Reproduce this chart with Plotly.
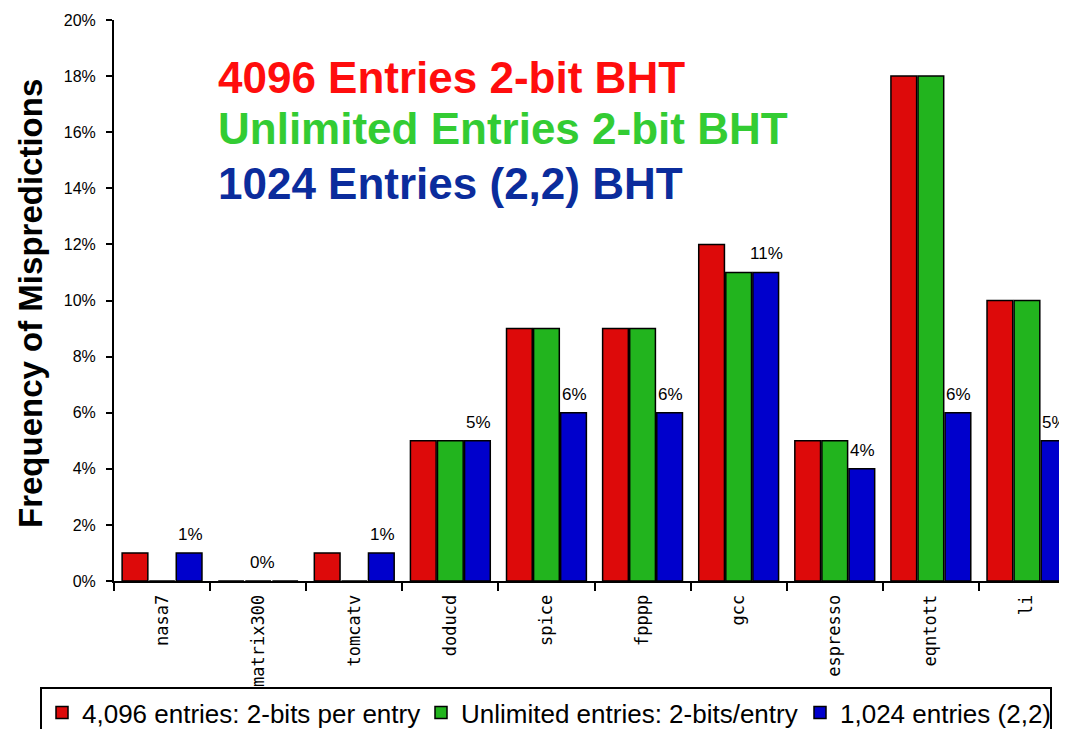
import plotly.graph_objects as go

categories = ["nasa7", "matrix300", "tomcatv", "doducd", "spice", "fpppp", "gcc", "espresso", "eqntott", "li"]
bht_4096 = [1, 0, 1, 5, 9, 9, 12, 5, 18, 10]
bht_unlimited = [0, 0, 0, 5, 9, 9, 11, 5, 18, 10]
bht_1024_22 = [1, 0, 1, 5, 6, 6, 11, 4, 6, 5]

series_names = ["4,096 entries: 2-bits per entry", "Unlimited entries: 2-bits/entry", "1,024 entries (2,2)"]
series_colors = ["#DD0A0A", "#22B41E", "#0000CC"]
y_ticks = [0, 2, 4, 6, 8, 10, 12, 14, 16, 18, 20]
title_lines = ["4096 Entries 2-bit BHT", "Unlimited Entries 2-bit BHT", "1024 Entries (2,2) BHT"]
title_colors = ["#FF0D0D", "#33CC33", "#0B2C9C"]

# page body has an 8px margin: positions below are in figure pixels (screen - 8)
OFF = 8
W, H = 1067, 729
ML, MR, MT = 114 - OFF, 0, 20 - OFF
plot_h = 561
MB = H - MT - plot_h
plot_w = W - ML - MR
cat_px = 96.1
x_max = -0.5 + plot_w / cat_px


def sy(screen_y):
    """screen y -> paper fraction"""
    return (MT + plot_h - (screen_y - OFF)) / plot_h


def sx(screen_x):
    return ((screen_x - OFF) - ML) / plot_w


fig = go.Figure()
for vals, name, col in zip([bht_4096, bht_unlimited, bht_1024_22], series_names, series_colors):
    fig.add_trace(go.Bar(
        x=categories, y=vals, name=name,
        marker=dict(color=col, line=dict(color="black", width=1.5)),
        legendwidth=205 if name == series_names[-1] else None,
    ))

# value labels of the (2,2) series, above its bars
for cat, v in zip(categories, bht_1024_22):
    fig.add_annotation(
        x=cat, y=v, xref="x", yref="y", text=f"{v}%", showarrow=False,
        xanchor="center", yanchor="bottom",
        xshift=28 if v > 0 else 4, yshift=7,
        font=dict(family="Arial, Liberation Sans", size=17, color="black"),
    )

fig.update_layout(
    width=W, height=H,
    margin=dict(l=ML, r=MR, t=MT, b=MB, autoexpand=False),
    paper_bgcolor="white", plot_bgcolor="white",
    barmode="group", bargap=0.155, bargroupgap=0.05,
    font=dict(family="Arial, Liberation Sans", color="black"),
    showlegend=True,
    legend=dict(
        orientation="h",
        x=sx(40), xanchor="left",
        y=sy(687), yanchor="top",
        bordercolor="black", borderwidth=2,
        font=dict(family="Arial, Liberation Sans", size=26, color="black"),
        entrywidth=334,
        traceorder="normal",
    ),
    xaxis=dict(
        range=[-0.5, x_max],
        showline=True, linecolor="black", linewidth=2,
        ticks="outside", ticklen=8, tickwidth=1.5, tickcolor="black",
        tickson="boundaries",
        tickangle=-90,
        ticklabelstandoff=5,
        tickfont=dict(family="DejaVu Sans Mono", size=17, color="black"),
        showgrid=False, zeroline=False,
    ),
    yaxis=dict(
        range=[0, 20],
        tickvals=y_ticks, ticktext=[f"{v}%" for v in y_ticks],
        showline=True, linecolor="black", linewidth=2,
        ticks="outside", ticklen=6, tickwidth=1.5, tickcolor="black",
        ticklabelstandoff=7,
        tickfont=dict(family="Arial, Liberation Sans", size=16, color="black"),
        showgrid=False, zeroline=False,
    ),
)

# y axis title
fig.add_annotation(
    text="<b>Frequency of Mispredictions</b>", textangle=-90,
    xref="paper", yref="paper",
    x=sx(30), y=sy(304),
    xanchor="center", yanchor="middle", showarrow=False,
    font=dict(family="Arial, Liberation Sans", size=33, color="black"),
)

# coloured heading lines
centers = [77.5, 128.5, 183]
for txt, col, cy in zip(title_lines, title_colors, centers):
    fig.add_annotation(
        text=f"<b>{txt}</b>", xref="paper", yref="paper",
        x=sx(216), y=sy(cy),
        xanchor="left", yanchor="middle", showarrow=False,
        font=dict(family="Arial, Liberation Sans", size=44, color=col),
    )

fig.write_html("out.html")
